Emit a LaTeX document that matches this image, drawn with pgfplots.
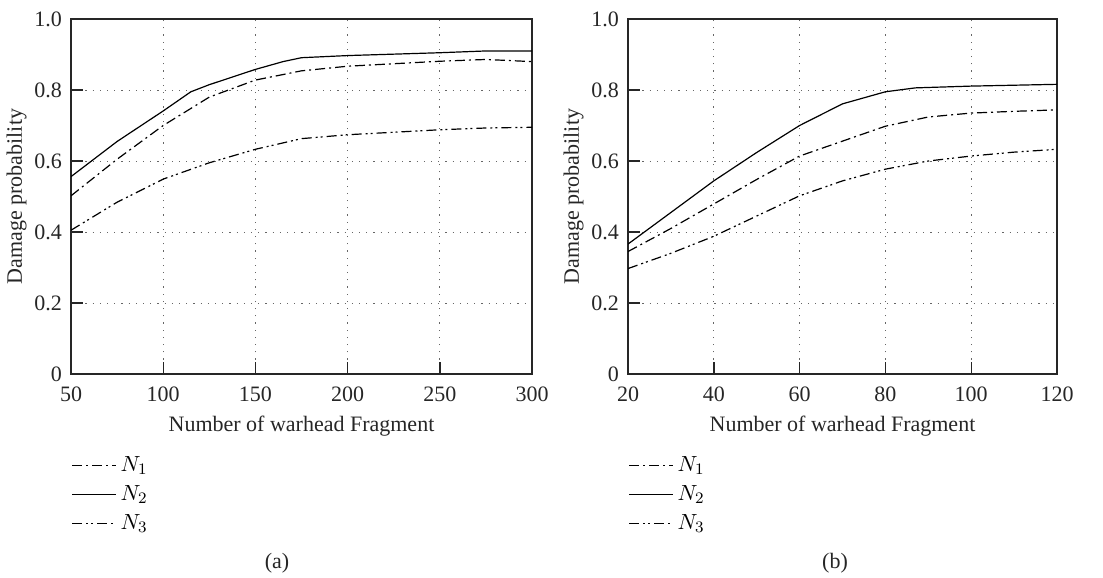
\documentclass[border=0pt]{standalone}
\usepackage{fontspec}
\setmainfont{Liberation Serif}
\usepackage{pgfplots}
\pgfplotsset{compat=1.18}

\pgfplotsset{
  myaxis/.style={
    scale only axis, height=177.5pt, anchor=south west,
    ymin=0, ymax=1, ytick={0,0.2,0.4,0.6,0.8,1.0},
    yticklabels={0,0.2,0.4,0.6,0.8,1.0},
    /pgf/number format/assume math mode=true,
    tick pos=left, tick align=inside, major tick length=6pt,
    grid=major, grid style={black!60, line width=0.5pt, dash pattern=on 0.6pt off 3pt},
    axis line style={black!85, line width=0.7pt},
    every tick/.style={black!85, line width=0.7pt},
    every tick label/.append style={font=\fontsize{11}{13}\selectfont, text=black!85},
    xticklabel style={yshift=-3pt},
    yticklabel style={xshift=-1pt},
    label style={font=\fontsize{11}{13}\selectfont, text=black!85},
    xlabel={Number of warhead Fragment},
    ylabel={Damage probability},
    ylabel style={yshift=-3pt},
    legend style={at={(0,-0.22)}, anchor=north west, draw=none, fill=none,
      font=\fontsize{11}{13}\selectfont, row sep=1.5pt, inner sep=0pt},
    legend cell align=left,
    legend image code/.code={\draw[#1] (0pt,0pt) -- (18pt,0pt); \path (0pt,0pt) -- (22pt,0pt);},
  },
  n1/.style={black, line width=0.6pt, dash pattern=on 5pt off 2pt on 1pt off 2pt},
  n2/.style={black, line width=0.6pt},
  n3/.style={black, line width=0.6pt, dash pattern=on 5pt off 2pt on 1pt off 1.5pt on 1pt off 2pt},
}

\begin{document}
\begin{tikzpicture}
\path[use as bounding box] (0,0) rectangle (551.5pt,-289pt);

\begin{axis}[myaxis, at={(35.5pt,-187pt)}, width=230.5pt,
  xmin=50, xmax=300, xtick={50,100,150,200,250,300}]
\addplot[n1] coordinates {(50,0.502) (75,0.605) (100,0.70) (125,0.78) (150,0.828) (175,0.854) (200,0.867) (225,0.874) (250,0.881) (275,0.886) (300,0.88)};
\addlegendentry{$N_1$}
\addplot[n2] coordinates {(50,0.556) (75,0.655) (100,0.741) (115,0.795) (125,0.815) (150,0.858) (165,0.88) (175,0.891) (200,0.897) (250,0.905) (275,0.91) (300,0.91)};
\addlegendentry{$N_2$}
\addplot[n3] coordinates {(50,0.405) (75,0.484) (100,0.549) (125,0.595) (150,0.633) (175,0.663) (200,0.674) (250,0.688) (275,0.693) (300,0.695)};
\addlegendentry{$N_3$}
\end{axis}

\begin{axis}[myaxis, at={(314pt,-187pt)}, width=214.5pt,
  xmin=20, xmax=120, xtick={20,40,60,80,100,120}]
\addplot[n1] coordinates {(20,0.345) (30,0.41) (40,0.479) (50,0.548) (60,0.614) (70,0.656) (80,0.698) (90,0.724) (100,0.735) (110,0.74) (120,0.744)};
\addlegendentry{$N_1$}
\addplot[n2] coordinates {(20,0.366) (30,0.455) (40,0.544) (50,0.624) (60,0.70) (70,0.761) (80,0.795) (87,0.806) (100,0.811) (120,0.816)};
\addlegendentry{$N_2$}
\addplot[n3] coordinates {(20,0.297) (30,0.34) (40,0.388) (50,0.445) (60,0.502) (70,0.544) (80,0.577) (90,0.60) (100,0.614) (110,0.625) (120,0.633)};
\addlegendentry{$N_3$}
\end{axis}

\node[font=\fontsize{11}{13}\selectfont, text=black!85] at (138.5pt,-281.5pt) {(a)};
\node[font=\fontsize{11}{13}\selectfont, text=black!85] at (417.5pt,-281.5pt) {(b)};
\end{tikzpicture}
\end{document}
